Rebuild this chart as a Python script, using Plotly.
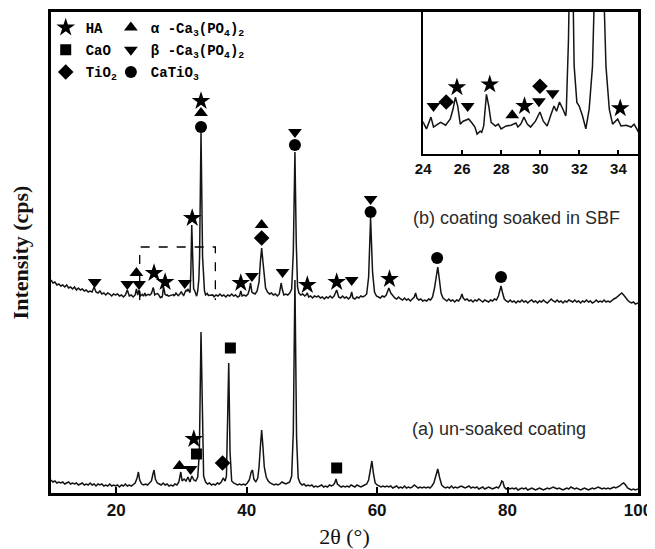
import plotly.graph_objects as go

# ---------------- data (2θ in degrees, intensity in arbitrary cps units, offset patterns) -------------
# (a) un-soaked coating
pattern_a = [
    (10.0, 12), (10.3, 10), (10.6, 11), (10.9, 9), (11.2, 10), (11.5, 9), (11.8, 10), (12.1, 8), (12.4, 9),
    (12.7, 10), (13.0, 8), (13.3, 9), (13.6, 8), (13.9, 9), (14.2, 7), (14.5, 8), (14.8, 9), (15.1, 7),
    (15.4, 8), (15.7, 7), (16.0, 9), (16.3, 7), (16.6, 8), (16.9, 6), (17.2, 8), (17.5, 7), (17.8, 8),
    (18.1, 6), (18.4, 7), (18.7, 6), (19.0, 8), (19.3, 6), (19.6, 7), (19.9, 6), (20.2, 7), (20.5, 5),
    (20.8, 7), (21.1, 6), (21.4, 8), (21.7, 6), (22.0, 7), (22.3, 6), (22.6, 8), (22.9, 9), (23.2, 14),
    (23.4, 20), (23.6, 12), (23.9, 8), (24.2, 7), (24.5, 8), (24.8, 7), (25.1, 9), (25.4, 11), (25.6, 17),
    (25.8, 22), (26.0, 13), (26.3, 9), (26.6, 8), (26.9, 7), (27.2, 9), (27.5, 7), (27.8, 8), (28.1, 6),
    (28.4, 7), (28.7, 6), (29.0, 8), (29.3, 7), (29.6, 10), (29.9, 20), (30.1, 11), (30.4, 13), (30.7, 11),
    (31.0, 15), (31.3, 10), (31.6, 16), (31.9, 12), (32.2, 11), (32.5, 15), (32.75, 40), (33.0, 160),
    (33.2, 60), (33.4, 16), (33.7, 10), (34.0, 8), (34.3, 9), (34.6, 7), (34.9, 8), (35.2, 7), (35.5, 9),
    (35.8, 8), (36.1, 10), (36.4, 14), (36.7, 11), (36.9, 16), (37.1, 80), (37.25, 129), (37.45, 40),
    (37.7, 11), (38.0, 9), (38.3, 8), (38.6, 7), (38.9, 8), (39.2, 7), (39.5, 8), (39.8, 7), (40.1, 9),
    (40.4, 12), (40.7, 20), (40.9, 22), (41.1, 13), (41.4, 10), (41.7, 14), (41.9, 25), (42.1, 45),
    (42.3, 62), (42.5, 45), (42.7, 25), (43.0, 15), (43.3, 11), (43.6, 9), (43.9, 8), (44.2, 7), (44.5, 8),
    (44.8, 7), (45.1, 8), (45.4, 10), (45.7, 9), (46.0, 8), (46.3, 9), (46.6, 10), (46.9, 16), (47.15, 60),
    (47.4, 212), (47.65, 55), (47.9, 14), (48.2, 9), (48.5, 7), (48.8, 8), (49.1, 6), (49.4, 7), (49.7, 6),
    (50.0, 7), (50.3, 5), (50.6, 6), (50.9, 5), (51.2, 6), (51.5, 7), (51.8, 5), (52.1, 6), (52.4, 5),
    (52.7, 7), (53.0, 6), (53.3, 7), (53.5, 9), (53.7, 13), (53.9, 8), (54.2, 6), (54.5, 5), (54.8, 6),
    (55.1, 5), (55.4, 6), (55.7, 5), (56.0, 7), (56.3, 6), (56.6, 5), (56.9, 7), (57.2, 6), (57.5, 5),
    (57.8, 6), (58.1, 7), (58.4, 8), (58.7, 12), (58.95, 24), (59.2, 31), (59.45, 18), (59.7, 9), (60.0, 7),
    (60.3, 6), (60.6, 5), (60.9, 6), (61.2, 5), (61.5, 6), (61.8, 5), (62.1, 6), (62.4, 4), (62.7, 5),
    (63.0, 6), (63.3, 4), (63.6, 5), (63.9, 4), (64.2, 6), (64.5, 4), (64.8, 5), (65.1, 4), (65.4, 5),
    (65.7, 7), (66.0, 5), (66.3, 4), (66.6, 5), (66.9, 4), (67.2, 5), (67.5, 4), (67.8, 5), (68.1, 4),
    (68.4, 6), (68.7, 9), (69.0, 16), (69.3, 23), (69.6, 14), (69.9, 7), (70.2, 5), (70.5, 4), (70.8, 5),
    (71.1, 4), (71.4, 6), (71.7, 4), (72.0, 5), (72.3, 4), (72.6, 5), (72.9, 6), (73.2, 5), (73.5, 4),
    (73.8, 5), (74.1, 6), (74.4, 4), (74.7, 5), (75.0, 4), (75.3, 5), (75.6, 3), (75.9, 4), (76.2, 5),
    (76.5, 3), (76.8, 4), (77.1, 5), (77.4, 4), (77.7, 3), (78.0, 4), (78.3, 5), (78.6, 4), (78.9, 7),
    (79.1, 11), (79.3, 10), (79.5, 5), (79.8, 3), (80.1, 4), (80.4, 3), (80.7, 4), (81.0, 3), (81.3, 4),
    (81.6, 2), (81.9, 3), (82.2, 4), (82.5, 3), (82.8, 4), (83.1, 2), (83.4, 3), (83.7, 4), (84.0, 3),
    (84.3, 2), (84.6, 3), (84.9, 4), (85.2, 3), (85.5, 2), (85.8, 3), (86.1, 4), (86.4, 3), (86.7, 4),
    (87.0, 5), (87.3, 4), (87.6, 3), (87.9, 4), (88.2, 3), (88.5, 2), (88.8, 3), (89.1, 4), (89.4, 3),
    (89.7, 5), (90.0, 4), (90.3, 3), (90.6, 4), (90.9, 3), (91.2, 2), (91.5, 3), (91.8, 4), (92.1, 3),
    (92.4, 2), (92.7, 3), (93.0, 4), (93.3, 3), (93.6, 4), (93.9, 5), (94.2, 4), (94.5, 3), (94.8, 4),
    (95.1, 3), (95.4, 4), (95.7, 3), (96.0, 4), (96.3, 5), (96.6, 4), (96.9, 5), (97.2, 6), (97.5, 8),
    (97.8, 9), (98.1, 7), (98.4, 4), (98.7, 3), (99.0, 2), (99.3, 3), (99.6, 2), (100.0, 3),
]

# (b) coating soaked in SBF (offset upward)
pattern_b = [
    (10.0, 212), (10.3, 209), (10.6, 210), (10.9, 207), (11.2, 208), (11.5, 206), (11.8, 207), (12.1, 205),
    (12.4, 207), (12.7, 204), (13.0, 205), (13.3, 203), (13.6, 205), (13.9, 202), (14.2, 204), (14.5, 202),
    (14.8, 203), (15.1, 201), (15.4, 202), (15.7, 200), (16.0, 201), (16.3, 200), (16.6, 205), (16.9, 200),
    (17.2, 199), (17.5, 201), (17.8, 198), (18.1, 199), (18.4, 197), (18.7, 199), (19.0, 198), (19.3, 196),
    (19.6, 198), (19.9, 197), (20.2, 198), (20.5, 196), (20.8, 197), (21.1, 195), (21.4, 197), (21.7, 202),
    (22.0, 196), (22.3, 197), (22.6, 195), (22.9, 197), (23.1, 203), (23.3, 197), (23.5, 202), (23.7, 196),
    (24.0, 197.6), (24.17, 195.8), (24.4, 199.0), (24.53, 196.3), (24.75, 197.1), (24.9, 197.6),
    (25.15, 196.8), (25.39, 198.5), (25.53, 201.2), (25.65, 204.4), (25.77, 202.0), (25.9, 197.1),
    (26.05, 197.9), (26.33, 198.5), (26.5, 197.4), (26.65, 196.3), (26.76, 194.4), (26.92, 195.2),
    (27.0, 194.9), (27.1, 196.6), (27.24, 205.2), (27.36, 202.0), (27.48, 197.6), (27.7, 196.6),
    (27.85, 197.1), (27.99, 195.8), (28.25, 196.6), (28.5, 196.8), (28.75, 197.4), (28.85, 196.3),
    (29.0, 197.1), (29.16, 199.0), (29.33, 197.1), (29.5, 196.3), (29.75, 197.9), (29.98, 200.4),
    (30.15, 197.9), (30.35, 196.6), (30.52, 199.3), (30.7, 202.0), (30.83, 200.6), (30.98, 203.1),
    (31.15, 201.2), (31.3, 199.3), (31.33, 201.0), (31.44, 220.0), (31.58, 267.0), (31.73, 213.0),
    (31.87, 203.0), (31.99, 202.0), (32.16, 199.3), (32.33, 195.8), (32.5, 201.2), (32.67, 212.8),
    (32.78, 235.0), (33.0, 359.0), (33.24, 235.0), (33.36, 212.8), (33.53, 201.2), (33.7, 197.1),
    (33.96, 198.5), (34.13, 196.6), (34.39, 196.8), (34.65, 196.3), (34.8, 197.1), (35.0, 195.2),
    (35.3, 197), (35.6, 196), (35.9, 198), (36.2, 196), (36.5, 197), (36.8, 195), (37.1, 197), (37.4, 196),
    (37.7, 198), (38.0, 196), (38.3, 197), (38.6, 195), (38.9, 196), (39.1, 201), (39.3, 196), (39.6, 197),
    (39.9, 196), (40.2, 198), (40.4, 202), (40.6, 209), (40.8, 200), (41.0, 199), (41.3, 198), (41.6, 201),
    (41.9, 210), (42.1, 230), (42.3, 244), (42.5, 230), (42.7, 212), (42.9, 204), (43.2, 200), (43.5, 198),
    (43.8, 199), (44.1, 197), (44.4, 198), (44.7, 196), (45.0, 198), (45.2, 206), (45.3, 209), (45.45, 203),
    (45.7, 197), (46.0, 198), (46.3, 197), (46.6, 199), (46.9, 203), (47.15, 240), (47.4, 340), (47.6, 250),
    (47.8, 205), (48.0, 199), (48.3, 197), (48.6, 198), (48.9, 196), (49.1, 197), (49.3, 199), (49.5, 195),
    (49.8, 196), (50.1, 194), (50.4, 196), (50.7, 195), (51.0, 196), (51.3, 194), (51.6, 195), (51.9, 193),
    (52.2, 195), (52.5, 194), (52.8, 196), (53.1, 194), (53.4, 196), (53.8, 202), (54.1, 195), (54.4, 194),
    (54.7, 196), (55.0, 194), (55.3, 195), (55.6, 193), (55.9, 195), (56.1, 200), (56.3, 194), (56.6, 193),
    (56.9, 195), (57.2, 194), (57.5, 196), (57.8, 195), (58.1, 196), (58.4, 198), (58.7, 215), (59.0, 274),
    (59.3, 220), (59.6, 200), (59.9, 196), (60.2, 195), (60.5, 194), (60.8, 196), (61.1, 195), (61.4, 197),
    (61.8, 204), (62.1, 199), (62.4, 196), (62.7, 194), (63.0, 193), (63.3, 195), (63.6, 193), (63.9, 192),
    (64.2, 194), (64.5, 192), (64.8, 193), (65.1, 191), (65.4, 193), (65.7, 195), (65.9, 199), (66.1, 194),
    (66.4, 192), (66.7, 193), (67.0, 191), (67.3, 192), (67.6, 191), (67.9, 193), (68.2, 192), (68.5, 195),
    (68.8, 204), (69.1, 220), (69.3, 225), (69.5, 215), (69.8, 199), (70.1, 194), (70.4, 192), (70.7, 191),
    (71.0, 193), (71.3, 191), (71.6, 192), (71.9, 190), (72.2, 192), (72.5, 191), (72.8, 194), (73.0, 198),
    (73.2, 194), (73.5, 192), (73.8, 193), (74.1, 191), (74.4, 192), (74.7, 190), (75.0, 192), (75.3, 191),
    (75.6, 193), (75.9, 191), (76.2, 190), (76.5, 192), (76.8, 191), (77.1, 190), (77.4, 192), (77.7, 191),
    (78.0, 193), (78.3, 192), (78.6, 196), (78.85, 204), (79.0, 206), (79.2, 200), (79.5, 193), (79.8, 191),
    (80.1, 190), (80.4, 192), (80.7, 190), (81.0, 191), (81.3, 189), (81.6, 191), (81.9, 190), (82.2, 192),
    (82.5, 190), (82.8, 191), (83.1, 189), (83.4, 191), (83.7, 192), (84.0, 190), (84.3, 191), (84.6, 189),
    (84.9, 191), (85.2, 190), (85.5, 192), (85.8, 190), (86.1, 189), (86.4, 191), (86.7, 193), (87.0, 191),
    (87.3, 190), (87.6, 192), (87.9, 190), (88.2, 191), (88.5, 189), (88.8, 191), (89.1, 190), (89.4, 192),
    (89.7, 191), (90.0, 190), (90.3, 192), (90.6, 190), (90.9, 191), (91.2, 189), (91.5, 191), (91.8, 190),
    (92.1, 192), (92.4, 190), (92.7, 191), (93.0, 189), (93.3, 190), (93.6, 192), (93.9, 190), (94.2, 191),
    (94.5, 190), (94.8, 192), (95.1, 190), (95.4, 191), (95.7, 190), (96.0, 192), (96.3, 193), (96.6, 194),
    (96.9, 196), (97.2, 198), (97.5, 199), (97.8, 197), (98.1, 194), (98.4, 192), (98.7, 190), (99.0, 189),
    (99.3, 190), (99.6, 188), (100.0, 189),
]

# Phase identification markers on the main plot (2θ, label height)
phase_marks_main = {
    "HA": [(33.0, 391), (31.65, 274), (25.8, 219), (27.5, 210), (39.1, 209), (49.3, 207), (53.8, 210),
           (61.9, 213), (31.9, 53)],
    "CaO": [(37.5, 144), (32.3, 38), (53.8, 24)],
    "TiO2": [(42.3, 254), (36.3, 29)],
    "alpha": [(33.0, 379), (42.3, 267), (23.1, 219), (29.7, 26)],
    "beta": [(47.4, 360), (59.0, 293), (16.7, 210), (21.7, 208), (23.5, 208), (30.5, 209), (40.8, 216),
             (45.5, 220), (56.1, 212), (31.4, 23)],
    "CaTiO3": [(33.0, 365), (47.4, 347), (59.0, 280), (69.2, 234), (79.0, 215)],
}
# Phase markers in the magnified inset (24-35°)
phase_marks_inset = {
    "HA": [(25.73, 207.1), (27.41, 207.9), (29.19, 202.0), (34.09, 201.4)],
    "TiO2": [(25.18, 203.1), (29.98, 207.4)],
    "alpha": [(28.56, 199.5)],
    "beta": [(24.53, 202.0), (26.28, 202.0), (29.93, 203.3), (30.63, 205.5)],
}
phase_names = {
    "HA": "HA",
    "CaO": "CaO",
    "TiO2": "TiO<sub>2</sub>",
    "alpha": "α -Ca<sub>3</sub>(PO<sub>4</sub>)<sub>2</sub>",
    "beta": "β -Ca<sub>3</sub>(PO<sub>4</sub>)<sub>2</sub>",
    "CaTiO3": "CaTiO<sub>3</sub>",
}
main_ticks = [20, 40, 60, 80, 100]
inset_ticks = [24, 26, 28, 30, 32, 34]
inset_range_x = [24, 35]
inset_range_y = [189, 227.6]
zoom_box_x = [23.6, 35.2]
zoom_box_y = [192, 245]
label_b = "(b) coating soaked in SBF"
label_a = "(a) un-soaked coating"
label_positions = {"b": (65.2, 274), "a": (65.1, 63)}

# ---------------- styles -------------
symbols = {"HA": "star", "CaO": "square", "TiO2": "diamond", "alpha": "triangle-up",
           "beta": "triangle-down", "CaTiO3": "circle"}
sizes = {"HA": 14, "CaO": 11, "TiO2": 12, "alpha": 12, "beta": 12, "CaTiO3": 12}
legend_of = {"HA": "legend", "CaO": "legend", "TiO2": "legend",
             "alpha": "legend2", "beta": "legend2", "CaTiO3": "legend2"}
line_color = "#141414"

fig = go.Figure()

for name, pts in (("b", pattern_b), ("a", pattern_a)):
    fig.add_trace(go.Scatter(x=[p[0] for p in pts], y=[p[1] for p in pts], mode="lines",
                             line=dict(color=line_color, width=1.5), showlegend=False,
                             hoverinfo="skip"))

# inset: same SBF pattern, magnified
fig.add_trace(go.Scatter(x=[p[0] for p in pattern_b], y=[p[1] for p in pattern_b], mode="lines",
                         line=dict(color=line_color, width=1.5), showlegend=False,
                         xaxis="x2", yaxis="y2", hoverinfo="skip"))

for key in ["HA", "CaO", "TiO2", "alpha", "beta", "CaTiO3"]:
    pts = phase_marks_main[key]
    fig.add_trace(go.Scatter(
        x=[p[0] for p in pts], y=[p[1] for p in pts], mode="markers", name=phase_names[key],
        marker=dict(symbol=symbols[key], size=sizes[key], color="black", line=dict(width=0)),
        legend=legend_of[key], legendgroup=key, showlegend=True))
    if key in phase_marks_inset:
        ip = phase_marks_inset[key]
        fig.add_trace(go.Scatter(
            x=[p[0] for p in ip], y=[p[1] for p in ip], mode="markers", showlegend=False,
            marker=dict(symbol=symbols[key], size=sizes[key], color="black", line=dict(width=0)),
            legendgroup=key, xaxis="x2", yaxis="y2"))

# dashed box marking the magnified region
fig.add_shape(type="path", xref="x", yref="y",
              path=f"M {zoom_box_x[0]},{zoom_box_y[0]} L {zoom_box_x[0]},{zoom_box_y[1]} "
                   f"L {zoom_box_x[1]},{zoom_box_y[1]} L {zoom_box_x[1]},{zoom_box_y[0]}",
              line=dict(color="black", width=1.3, dash="dash"))

fig.add_annotation(x=label_positions["b"][0], y=label_positions["b"][1], text=label_b,
                   xanchor="left", yanchor="middle", showarrow=False,
                   font=dict(family="Liberation Sans, Arial", size=18, color="#2a2a2a"))
fig.add_annotation(x=label_positions["a"][0], y=label_positions["a"][1], text=label_a,
                   xanchor="left", yanchor="middle", showarrow=False,
                   font=dict(family="Liberation Sans, Arial", size=18, color="#2a2a2a"))

# the page places the figure 8 px in from the top-left corner; size and margins allow for that
legend_font = dict(family="Liberation Mono, DejaVu Sans Mono", size=14, color="black", weight="bold")
tick_font = dict(family="Liberation Sans, Arial", size=17, color="#111", weight=700)
fig.update_layout(
    width=647, height=541,
    margin=dict(l=43, r=17, t=4, b=56, autoexpand=False),
    paper_bgcolor="white", plot_bgcolor="white",
    showlegend=True,
    legend=dict(x=-0.009, y=1.0, xanchor="left", yanchor="top", bgcolor="rgba(0,0,0,0)",
                font=legend_font, itemclick=False, tracegroupgap=1),
    legend2=dict(x=0.102, y=1.0, xanchor="left", yanchor="top", bgcolor="rgba(0,0,0,0)",
                 font=legend_font, itemclick=False, tracegroupgap=1),
    xaxis=dict(range=[10, 100], domain=[0, 1], showline=True, mirror=True, linecolor="black",
               linewidth=2.5, ticks="inside", ticklen=6, tickwidth=2, tickcolor="black",
               tickvals=main_ticks, ticktext=[f"<b>{v}</b>" for v in main_ticks],
               showgrid=False, zeroline=False, automargin=False, tickfont=tick_font,
               title=dict(text="2θ (°)", standoff=16,
                          font=dict(family="Liberation Serif, Times New Roman", size=22, color="#111"))),
    yaxis=dict(range=[-1, 480], domain=[0, 1], showline=True, mirror=True, linecolor="black",
               linewidth=2.5, ticks="", showticklabels=False, showgrid=False, zeroline=False,
               automargin=False,
               title=dict(text="<b>Intensity (cps)</b>", standoff=15,
                          font=dict(family="Liberation Serif, Times New Roman", size=22, color="#111",
                                    weight="bold"))),
    xaxis2=dict(range=inset_range_x, domain=[0.634, 1.0], anchor="y2", showline=True, mirror=True,
                linecolor="black", linewidth=2, ticks="inside", ticklen=4, tickwidth=1.5,
                tickcolor="black", tickvals=inset_ticks, ticktext=[f"<b>{v}</b>" for v in inset_ticks],
                showgrid=False, zeroline=False, automargin=False,
                tickfont=dict(family="Liberation Sans, Arial", size=15, color="#111", weight=700)),
    yaxis2=dict(range=inset_range_y, domain=[0.705, 1.0], anchor="x2", showline=True, mirror=True,
                linecolor="black", linewidth=2, ticks="", showticklabels=False, showgrid=False,
                zeroline=False, automargin=False),
)

fig.write_html("out.html")
